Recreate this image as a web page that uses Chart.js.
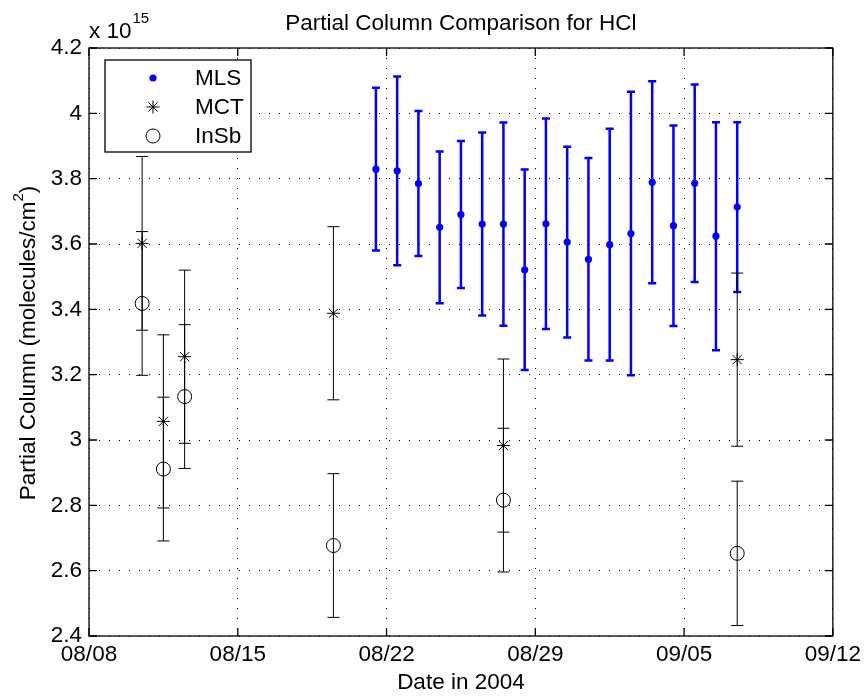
<!DOCTYPE html>
<html>
<head>
<meta charset="utf-8">
<title>Partial Column Comparison for HCl</title>
<script src="https://cdn.jsdelivr.net/npm/chart.js@4.4.1/dist/chart.umd.min.js"></script>
<style>
  html, body { margin: 0; padding: 0; background: #fff; }
  #chart { display: block; }
</style>
</head>
<body>
<canvas id="chart" width="866" height="696"></canvas>
<script>
/* Partial column HCl – MLS / MCT / InSb, x = days after 08/08/2004, y in 1e15 molecules/cm2 */
const FONT = "'Liberation Sans', Arial, Helvetica, sans-serif";
const FS = 22.5;   // taille du texte principal
const FS_SUP = 15; // exposants

const tickDays   = [0, 7, 14, 21, 28, 35];
const tickLabels = ['08/08', '08/15', '08/22', '08/29', '09/05', '09/12'];
const yTickValues = [2.4, 2.6, 2.8, 3.0, 3.2, 3.4, 3.6, 3.8, 4.0, 4.2];

const mlsDays   = [13.5, 14.5, 15.5, 16.5, 17.5, 18.5, 19.5, 20.5, 21.5, 22.5, 23.5, 24.5, 25.5, 26.5, 27.5, 28.5, 29.5, 30.5];
const mlsValues = [3.829, 3.824, 3.785, 3.651, 3.690, 3.661, 3.661, 3.521, 3.662, 3.606, 3.553, 3.598, 3.632, 3.789, 3.656, 3.786, 3.624, 3.713];
const mlsErrors = [0.249, 0.289, 0.222, 0.232, 0.225, 0.280, 0.311, 0.307, 0.322, 0.292, 0.310, 0.355, 0.434, 0.309, 0.307, 0.302, 0.349, 0.260];

const mctDays   = [2.5, 3.5, 4.5, 11.5, 19.5, 30.5];
const mctValues = [3.602, 3.057, 3.255, 3.388, 2.983, 3.246];
const mctErrors = [0.266, 0.265, 0.265, 0.265, 0.265, 0.265];

const insbDays   = [2.5, 3.5, 4.5, 11.5, 19.5, 30.5];
const insbValues = [3.418, 2.911, 3.133, 2.677, 2.816, 2.653];
const insbErrors = [0.220, 0.220, 0.220, 0.220, 0.220, 0.221];

const toPoints = (xs, ys) => xs.map((x, i) => ({ x, y: ys[i] }));

/* ---- barres d'erreur, dessinées sous les marqueurs ---- */
const errorBars = {
  id: 'errorBars',
  beforeDatasetDraw(chart, args) {
    const ds = chart.data.datasets[args.index];
    if (!ds.errors) return;
    const ys = chart.scales.y;
    const ctx = chart.ctx;
    const half = ds.capWidth / 2;
    ctx.save();
    ctx.strokeStyle = ds.barColor;
    ctx.lineWidth = ds.barWidth;
    args.meta.data.forEach((pt, i) => {
      const v = ds.data[i].y, e = ds.errors[i];
      const top = ys.getPixelForValue(v + e);
      const bot = ys.getPixelForValue(v - e);
      ctx.beginPath();
      ctx.moveTo(pt.x, top); ctx.lineTo(pt.x, bot);
      ctx.moveTo(pt.x - half, top); ctx.lineTo(pt.x + half, top);
      ctx.moveTo(pt.x - half, bot); ctx.lineTo(pt.x + half, bot);
      ctx.stroke();
    });
    ctx.restore();
  },
};

/* ---- cadre, graduations internes, titres, légende ---- */
const frame = {
  id: 'frame',
  afterDraw(chart) {
    const { ctx, chartArea: a, scales: { x, y } } = chart;
    const tl = 8;
    ctx.save();
    ctx.strokeStyle = '#000';
    ctx.lineWidth = 1.3;
    ctx.strokeRect(a.left, a.top, a.right - a.left, a.bottom - a.top);
    ctx.beginPath();
    x.ticks.forEach(t => {
      const px = x.getPixelForValue(t.value);
      ctx.moveTo(px, a.bottom); ctx.lineTo(px, a.bottom - tl);
      ctx.moveTo(px, a.top);    ctx.lineTo(px, a.top + tl);
    });
    y.ticks.forEach(t => {
      const py = y.getPixelForValue(t.value);
      ctx.moveTo(a.left, py);  ctx.lineTo(a.left + tl, py);
      ctx.moveTo(a.right, py); ctx.lineTo(a.right - tl, py);
    });
    ctx.stroke();

    ctx.fillStyle = '#000';
    ctx.textBaseline = 'alphabetic';

    // titre
    ctx.font = `${FS}px ${FONT}`;
    ctx.textAlign = 'center';
    ctx.fillText('Partial Column Comparison for HCl', (a.left + a.right) / 2, 30);

    // exposant
    ctx.textAlign = 'left';
    ctx.fillText('x 10', a.left, 38);
    const w10 = ctx.measureText('x 10').width;
    ctx.font = `${FS_SUP}px ${FONT}`;
    ctx.fillText('15', a.left + w10 + 1, 23);

    // titre axe Y
    ctx.save();
    ctx.translate(35, (a.top + a.bottom) / 2 + 1);
    ctx.rotate(-Math.PI / 2);
    ctx.font = `${FS}px ${FONT}`;
    const main = 'Partial Column (molecules/cm';
    const wMain = ctx.measureText(main).width;
    const wPar = ctx.measureText(')').width;
    ctx.font = `${FS_SUP}px ${FONT}`;
    const wSup = ctx.measureText('2').width;
    let sx = -(wMain + wSup + wPar) / 2;
    ctx.font = `${FS}px ${FONT}`;
    ctx.fillText(main, sx, 0);
    sx += wMain;
    ctx.font = `${FS_SUP}px ${FONT}`;
    ctx.fillText('2', sx, -12);
    sx += wSup;
    ctx.font = `${FS}px ${FONT}`;
    ctx.fillText(')', sx, 0);
    ctx.restore();

    // légende
    const lx = 105, ly = 60, lw = 146, lh = 92;
    const rows = [78, 107, 136];
    ctx.fillStyle = '#fff';
    ctx.fillRect(lx, ly, lw, lh);
    ctx.lineWidth = 1.3;
    ctx.strokeRect(lx, ly, lw, lh);
    chart.data.datasets.forEach(ds => {
      const ry = rows[ds.legendRow];
      ctx.save();
      ctx.fillStyle = ds.backgroundColor;
      ctx.strokeStyle = ds.borderColor;
      ctx.lineWidth = ds.borderWidth;
      Chart.helpers.drawPoint(ctx, {
        pointStyle: ds.pointStyle,
        radius: ds.pointRadius,
        borderWidth: ds.borderWidth,
        rotation: 0,
      }, 153, ry);
      ctx.restore();
    });
    ctx.fillStyle = '#000';
    ctx.font = `${FS}px ${FONT}`;
    ctx.textBaseline = 'middle';
    chart.data.datasets.forEach(ds => {
      ctx.fillText(ds.label, 195, rows[ds.legendRow] + 1);
    });
    ctx.restore();
  },
};

new Chart(document.getElementById('chart'), {
  type: 'scatter',
  data: {
    datasets: [
      {
        label: 'InSb',
        data: toPoints(insbDays, insbValues),
        errors: insbErrors,
        barColor: '#000', barWidth: 1, capWidth: 12,
        pointStyle: 'circle', pointRadius: 7,
        backgroundColor: 'rgba(0,0,0,0)', borderColor: '#000', borderWidth: 1,
        legendRow: 2, order: 1,
      },
      {
        label: 'MCT',
        data: toPoints(mctDays, mctValues),
        errors: mctErrors,
        barColor: '#000', barWidth: 1, capWidth: 12,
        pointStyle: 'star', pointRadius: 6.5,
        backgroundColor: '#000', borderColor: '#000', borderWidth: 1,
        legendRow: 1, order: 2,
      },
      {
        label: 'MLS',
        data: toPoints(mlsDays, mlsValues),
        errors: mlsErrors,
        barColor: '#0000ff', barWidth: 2.5, capWidth: 8,
        pointStyle: 'circle', pointRadius: 3.6,
        backgroundColor: '#0000ff', borderColor: '#0000ff', borderWidth: 0,
        legendRow: 0, order: 3,
      },
    ],
  },
  options: {
    responsive: false,
    animation: false,
    layout: { padding: { top: 48, right: 31, left: 0, bottom: 0 } },
    plugins: {
      legend: { display: false },
      title: { display: false },
      tooltip: { enabled: false },
    },
    scales: {
      x: {
        type: 'linear',
        min: 0,
        max: 35,
        afterBuildTicks: s => { s.ticks = tickDays.map(v => ({ value: v })); },
        afterFit: s => { s.height = 60; },
        ticks: {
          autoSkip: false,
          maxRotation: 0,
          padding: 5,
          color: '#000',
          font: { family: FONT, size: FS },
          callback: v => tickLabels[tickDays.indexOf(v)],
        },
        grid: { color: '#000', lineWidth: 1, drawTicks: false },
        border: { display: false, dash: [1, 9] },
        title: {
          display: true,
          text: 'Date in 2004',
          color: '#000',
          font: { family: FONT, size: FS },
          padding: { top: 0, bottom: 0 },
        },
      },
      y: {
        type: 'linear',
        min: 2.4,
        max: 4.2,
        afterBuildTicks: s => { s.ticks = yTickValues.map(v => ({ value: v })); },
        afterFit: s => { s.width = 89; },
        ticks: {
          padding: 7,
          color: '#000',
          font: { family: FONT, size: FS },
          callback: v => String(Number(v.toFixed(1))),
        },
        grid: { color: '#000', lineWidth: 1, drawTicks: false },
        border: { display: false, dash: [1, 9] },
      },
    },
  },
  plugins: [errorBars, frame],
});
</script>
</body>
</html>
